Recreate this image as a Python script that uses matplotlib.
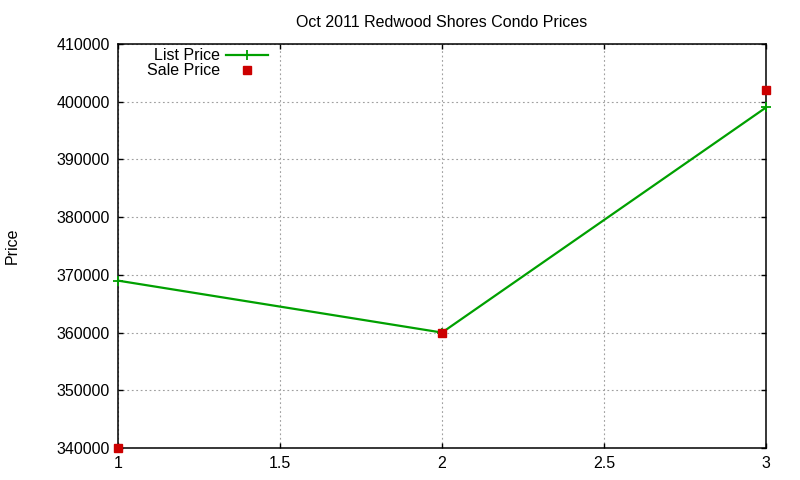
import matplotlib
matplotlib.use("Agg")
import matplotlib.pyplot as plt

plt.rcParams['font.family'] = ['Liberation Sans', 'DejaVu Sans']

# data
x_vals = [1, 2, 3]
list_price = [369000, 360000, 399000]
sale_price = [340000, 360000, 402000]

x_ticks = [1, 1.5, 2, 2.5, 3]
y_ticks = [340000, 350000, 360000, 370000, 380000, 390000, 400000, 410000]

fig = plt.figure(figsize=(8, 4.8), dpi=100)
ax = fig.add_axes([0.1475, 0.0667, 0.81, 0.8416])

ax.plot(x_vals, list_price, color='#00a000', lw=1.6, marker='+', ms=7, mew=1.3,
        label='List Price', clip_on=False, zorder=3)
ax.plot(x_vals, sale_price, color='#cc0000', ls='none', marker='s', ms=5.5,
        label='Sale Price', clip_on=False, zorder=4)

ax.set_xlim(1, 3)
ax.set_ylim(340000, 410000)
ax.set_xticks(x_ticks)
ax.set_xticklabels(['1', '1.5', '2', '2.5', '3'])
ax.set_yticks(y_ticks)
ax.set_yticklabels([str(v) for v in y_ticks])
ax.tick_params(direction='in', length=3.5, width=1, top=True, right=True,
               labelsize=11.5, pad=6)
ax.grid(True, color='#a0a0a0', ls=(0, (1.6, 2.4)), lw=0.8)
for s in ax.spines.values():
    s.set_linewidth(1.1)

ax.set_title('Oct 2011 Redwood Shores Condo Prices', fontsize=11.5, pad=12)
ax.set_ylabel('Price', fontsize=11.5, labelpad=26)

leg = ax.legend(loc='upper left', bbox_to_anchor=(0.022, 1.025), frameon=False,
                markerfirst=False, fontsize=11.5, handlelength=2.6,
                labelspacing=0.0, handletextpad=0.4)

fig.savefig('out.png', dpi=100)
